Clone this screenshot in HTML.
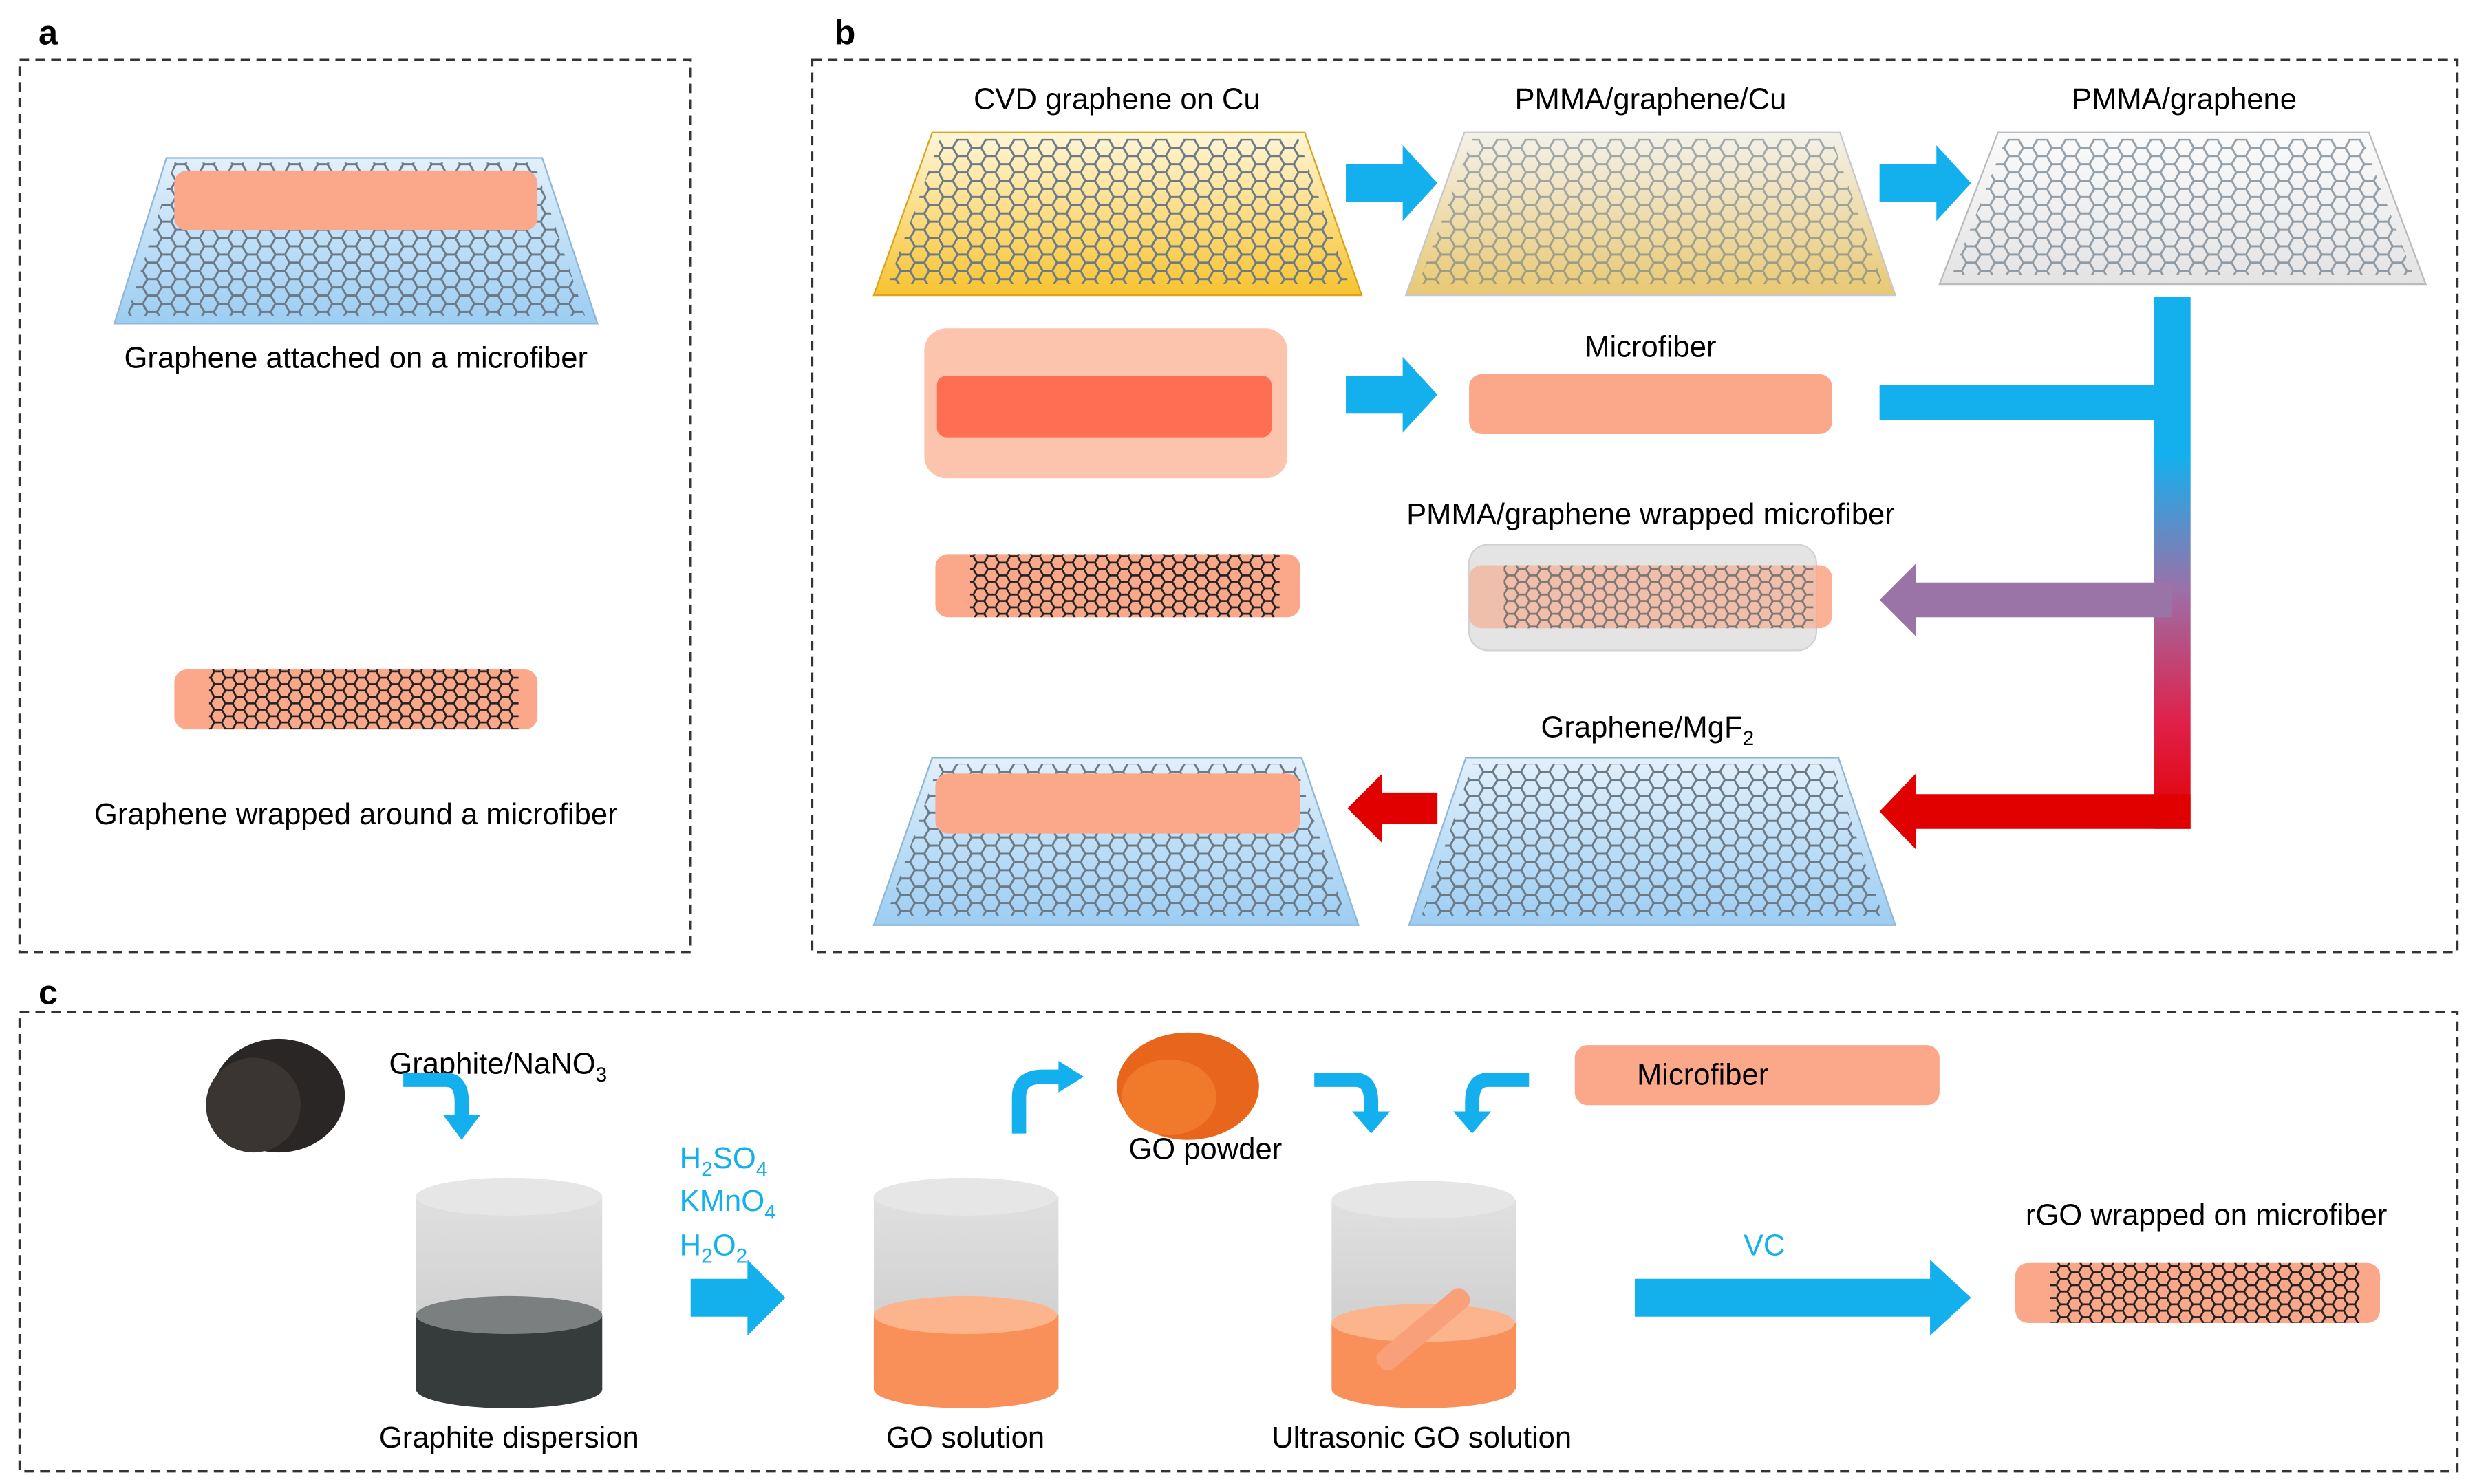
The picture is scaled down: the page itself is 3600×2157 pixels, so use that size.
<!DOCTYPE html>
<html><head><meta charset="utf-8"><style>
html,body{margin:0;padding:0;background:#fff;}
svg{display:block;}
text{font-family:"Liberation Sans",sans-serif;}
</style></head><body>
<svg width="3600" height="2157" viewBox="0 0 1568 940" xmlns="http://www.w3.org/2000/svg">
<defs>
<pattern id="hex" width="18" height="10.4" patternUnits="userSpaceOnUse">
<path d="M0,5.2 L3,0 L9,0 L12,5.2 L9,10.4 L3,10.4 Z M12,5.2 L18,5.2" fill="none" stroke="#6b7a86" stroke-width="1.3"/>
</pattern>
<pattern id="hexd" width="14" height="8.1" patternUnits="userSpaceOnUse">
<path d="M0,4.05 L2.33,0 L7,0 L9.33,4.05 L7,8.1 L2.33,8.1 Z M9.33,4.05 L14,4.05" fill="none" stroke="#222" stroke-width="1.2"/>
</pattern>
<linearGradient id="gold" x1="0" y1="0" x2="0" y2="1"><stop offset="0" stop-color="#fff6d8"/><stop offset="1" stop-color="#f8c330"/></linearGradient>
<linearGradient id="gold2" x1="0" y1="0" x2="0" y2="1"><stop offset="0" stop-color="#f3f1ea"/><stop offset="1" stop-color="#e8c872"/></linearGradient>
<linearGradient id="blue" x1="0" y1="0" x2="0" y2="1"><stop offset="0" stop-color="#e2f0fb"/><stop offset="1" stop-color="#9ccdf2"/></linearGradient>
<linearGradient id="grey" x1="0" y1="0" x2="0" y2="1"><stop offset="0" stop-color="#fbfbfb"/><stop offset="1" stop-color="#e3e3e3"/></linearGradient>
<linearGradient id="bar" x1="0" y1="0" x2="0" y2="1"><stop offset="0" stop-color="#14b0ee"/><stop offset="0.3" stop-color="#14b0ee"/><stop offset="0.55" stop-color="#9b70a8"/><stop offset="0.8" stop-color="#e0204a"/><stop offset="1" stop-color="#e00000"/></linearGradient>
<linearGradient id="beak" x1="0" y1="0" x2="0" y2="1"><stop offset="0" stop-color="#e0e0e0"/><stop offset="1" stop-color="#c8c8c8"/></linearGradient>
</defs>

<g fill="none" stroke="#333" stroke-width="1.5" stroke-dasharray="6,4">
<rect x="12" y="38" width="425" height="565"/>
<rect x="514" y="38" width="1042" height="565"/>
<rect x="12" y="641" width="1544" height="291"/>
</g>
<g font-weight="bold" font-size="22" fill="#000">
<text x="24" y="28">a</text><text x="528" y="28">b</text><text x="24" y="636">c</text>
</g>

<!-- panel a -->
<polygon points="72,205 378,205 343,100 105,100" fill="url(#blue)" stroke="#8fb8d8"/>
<polygon points="80,200 370,200 338,103 110,103" fill="url(#hex)"/>
<rect x="110" y="108" width="230" height="38" rx="8" fill="#fba88a"/>
<text x="225" y="233" font-size="19" text-anchor="middle">Graphene attached on a microfiber</text>
<rect x="110" y="424" width="230" height="38" rx="8" fill="#fba88a"/>
<rect x="132" y="424" width="196" height="38" fill="url(#hexd)"/>
<text x="225" y="522" font-size="19" text-anchor="middle">Graphene wrapped around a microfiber</text>

<!-- panel b row1 -->
<g font-size="19" text-anchor="middle">
<text x="707" y="69">CVD graphene on Cu</text>
<text x="1045" y="69">PMMA/graphene/Cu</text>
<text x="1383" y="69">PMMA/graphene</text>
<text x="707" y="226">Commercial fiber</text>
<text x="1045" y="226">Microfiber</text>
<text x="1045" y="332">PMMA/graphene wrapped microfiber</text>
<text x="1043" y="467">Graphene/MgF<tspan font-size="13" dy="5">2</tspan></text>
</g>
<polygon points="553,187 862,187 826,84 590,84" fill="url(#gold)" stroke="#d9a520"/>
<polygon points="562,180 854,180 822,88 595,88" fill="url(#hex)"/>
<polygon points="890,187 1200,187 1165,84 927,84" fill="url(#gold2)" stroke="#c8c8c8"/>
<polygon points="898,180 1192,180 1160,88 932,88" fill="url(#hex)" opacity="0.6"/>
<polygon points="1228,180 1536,180 1500,84 1265,84" fill="url(#grey)" stroke="#bbb"/>
<polygon points="1236,174 1528,174 1496,88 1270,88" fill="url(#hex)" opacity="0.7"/>
<g fill="#14b0ee">
<polygon points="852,104 888,104 888,92 910,116 888,140 888,128 852,128"/>
<polygon points="1190,104 1226,104 1226,92 1248,116 1226,140 1226,128 1190,128"/>
<polygon points="852,238 888,238 888,226 910,250 888,274 888,262 852,262"/>
<polygon points="437,810 473,810 473,798 497,822 473,846 473,834 437,834"/>
<polygon points="1035,810 1222,810 1222,798 1248,822 1222,846 1222,834 1035,834"/>
</g>
<!-- row2 -->
<rect x="585" y="208" width="230" height="95" rx="14" fill="#fcc3ad"/>
<rect x="593" y="238" width="212" height="39" rx="6" fill="#ff6e52"/>
<rect x="930" y="237" width="230" height="38" rx="8" fill="#fba88a"/>
<rect x="1364" y="188" width="23" height="337" fill="url(#bar)"/>
<rect x="1190" y="244" width="185" height="22" fill="#14b0ee"/>
<polygon points="1375,369 1213,369 1213,357 1190,380 1213,403 1213,391 1375,391" fill="#9a74a6"/>
<polygon points="1387,503 1213,503 1213,490 1190,514 1213,538 1213,525 1387,525" fill="#e00000"/>
<polygon points="910,502 875,502 875,490 853,512 875,534 875,522 910,522" fill="#e00000"/>
<!-- row3 -->
<rect x="592" y="351" width="231" height="40" rx="8" fill="#fba88a"/>
<rect x="614" y="351" width="196" height="40" fill="url(#hexd)"/>
<rect x="930" y="345" width="220" height="67" rx="12" fill="#e8e8e8" stroke="#d0d0d0"/>
<rect x="930" y="358" width="230" height="40" rx="8" fill="#fba88a" opacity="0.9"/>
<rect x="952" y="358" width="196" height="40" fill="url(#hexd)" opacity="0.8"/>
<rect x="930" y="345" width="220" height="67" rx="12" fill="#ddd" opacity="0.35"/>
<!-- row4 -->
<polygon points="553,586 860,586 824,480 590,480" fill="url(#blue)" stroke="#8fb8d8"/>
<polygon points="561,580 852,580 820,484 594,484" fill="url(#hex)"/>
<rect x="592" y="490" width="231" height="38" rx="8" fill="#fba88a"/>
<polygon points="892,586 1200,586 1164,480 928,480" fill="url(#blue)" stroke="#8fb8d8"/>
<polygon points="900,580 1192,580 1160,484 932,484" fill="url(#hex)"/>

<!-- panel c -->
<g fill="#2a2625">
<ellipse cx="176" cy="694" rx="42" ry="36"/>
<ellipse cx="160" cy="700" rx="30" ry="30" fill="#3a3432"/>
</g>
<g fill="#e8661c">
<ellipse cx="752" cy="688" rx="45" ry="34"/>
<ellipse cx="740" cy="695" rx="30" ry="24" fill="#f07a2a"/>
</g>
<g font-size="19" text-anchor="middle">
<text x="315" y="680">Graphite/NaNO<tspan font-size="13" dy="5">3</tspan></text>
<text x="763" y="734">GO powder</text>
<text x="322" y="917">Graphite dispersion</text>
<text x="611" y="917">GO solution</text>
<text x="900" y="917">Ultrasonic GO solution</text>
<text x="1397" y="776">rGO wrapped on microfiber</text>
</g>
<g font-size="19" fill="#14b0ee">
<text x="430" y="740">H<tspan font-size="13" dy="5">2</tspan><tspan dy="-5">SO</tspan><tspan font-size="13" dy="5">4</tspan></text>
<text x="430" y="767">KMnO<tspan font-size="13" dy="5">4</tspan></text>
<text x="430" y="795">H<tspan font-size="13" dy="5">2</tspan><tspan dy="-5">O</tspan><tspan font-size="13" dy="5">2</tspan></text>
<text x="1117" y="795" text-anchor="middle">VC</text>
</g>
<!-- curved arrows -->
<g fill="none" stroke="#14b0ee" stroke-width="9">
<path d="M255,684 L282,684 Q292,684 292,698 L292,708"/>
<path d="M645,718 L645,695 Q645,682 660,682 L672,682"/>
<path d="M832,684 L858,684 Q868,684 868,698 L868,706"/>
<path d="M968,684 L942,684 Q932,684 932,698 L932,706"/>
</g>
<g fill="#14b0ee">
<polygon points="280,706 304,706 292,722"/>
<polygon points="670,672 670,692 686,682"/>
<polygon points="856,704 880,704 868,718"/>
<polygon points="920,704 944,704 932,718"/>
</g>
<rect x="997" y="662" width="231" height="38" rx="8" fill="#fba88a"/>
<text x="1078" y="687" font-size="19" text-anchor="middle">Microfiber</text>
<rect x="1276" y="800" width="231" height="38" rx="8" fill="#fba88a"/>
<rect x="1298" y="800" width="196" height="38" fill="url(#hexd)"/>
<!-- beakers -->
<g>
<rect x="263" y="758" width="118" height="122" fill="url(#beak)"/>
<ellipse cx="322" cy="880" rx="59" ry="12" fill="#c8c8c8"/>
<rect x="263" y="833" width="118" height="47" fill="#363b3c"/>
<ellipse cx="322" cy="880" rx="59" ry="12" fill="#363b3c"/>
<ellipse cx="322" cy="833" rx="59" ry="12" fill="#7b7f80"/>
<ellipse cx="322" cy="758" rx="59" ry="12" fill="#e6e6e6"/>
</g>
<g>
<rect x="553" y="758" width="117" height="122" fill="url(#beak)"/>
<rect x="553" y="833" width="117" height="47" fill="#f9905a"/>
<ellipse cx="611" cy="880" rx="58" ry="12" fill="#f9905a"/>
<ellipse cx="611" cy="833" rx="58" ry="12" fill="#fbb48c"/>
<ellipse cx="611" cy="758" rx="58" ry="12" fill="#e6e6e6"/>
</g>
<g>
<rect x="843" y="760" width="117" height="120" fill="url(#beak)"/>
<rect x="843" y="838" width="117" height="42" fill="#f9905a"/>
<ellipse cx="901" cy="880" rx="58" ry="12" fill="#f9905a"/>
<ellipse cx="901" cy="838" rx="58" ry="12" fill="#fbb48c"/>
<ellipse cx="901" cy="760" rx="58" ry="12" fill="#e6e6e6"/>
<rect x="865" y="835" width="72" height="14" rx="6" fill="#f7a07a" transform="rotate(-40 901 842)"/>
</g>
</svg>
</body></html>
